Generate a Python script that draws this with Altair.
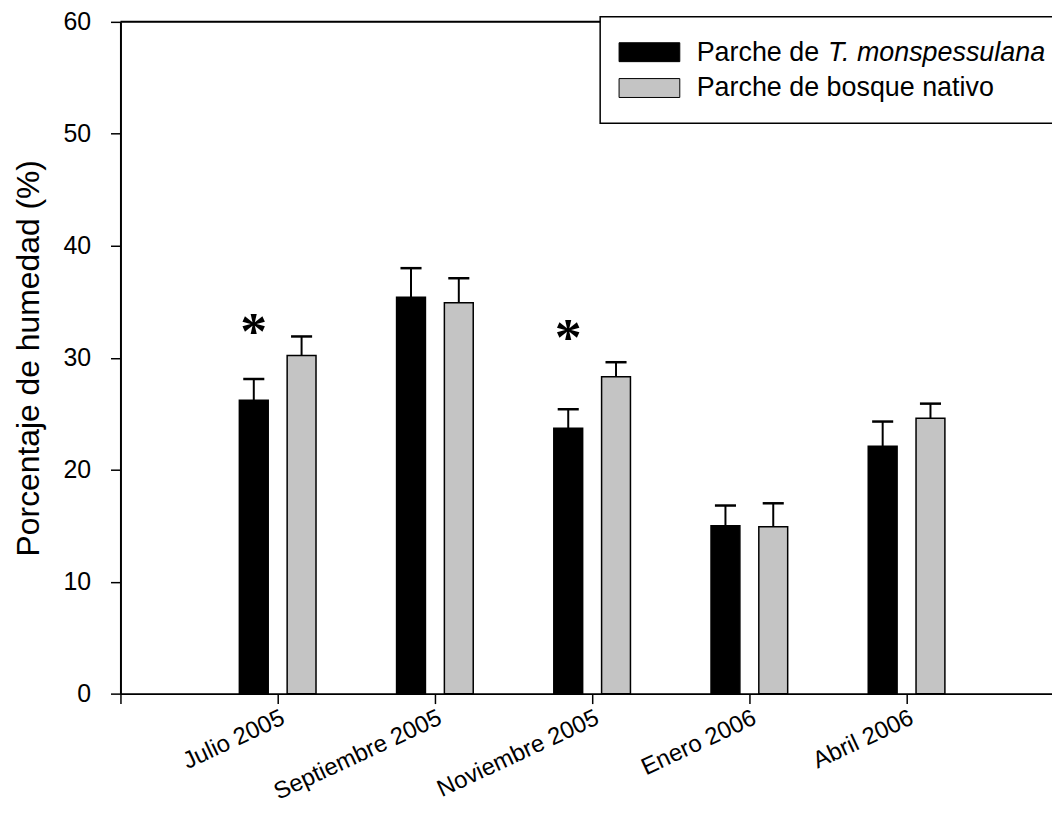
import altair as alt
import pandas as pd

# ---- data ----
months = ["Julio 2005", "Septiembre 2005", "Noviembre 2005", "Enero 2006", "Abril 2006"]
mono_mean = [26.2, 35.4, 23.7, 15.0, 22.1]
mono_err = [1.9, 2.6, 1.7, 1.8, 2.2]
native_mean = [30.2, 34.9, 28.3, 14.9, 24.6]
native_err = [1.7, 2.2, 1.3, 2.1, 1.3]
significant = [True, False, True, False, False]
sig_mark_level = [33.2, None, 32.6, None, None]
series_names = ["Parche de T. monspessulana", "Parche de bosque nativo"]
y_ticks = [0, 10, 20, 30, 40, 50, 60]

FONT = "Liberation Sans"
BLACK = "#000000"
GRAY = "#c4c4c4"

rows = []
for i, m in enumerate(months):
    rows.append({"month": m, "idx": i + 1, "series": series_names[0], "side": -1,
                 "mean": mono_mean[i], "err": mono_err[i]})
    rows.append({"month": m, "idx": i + 1, "series": series_names[1], "side": 1,
                 "mean": native_mean[i], "err": native_err[i]})
df = pd.DataFrame(rows)

stars = pd.DataFrame([{"idx": i + 1, "level": sig_mark_level[i], "side": -1}
                      for i in range(len(months)) if significant[i]])

W, H = 936, 675
XMAX = 5.925
OFF = 0.152
CAP = 0.067

xscale = alt.Scale(domain=[0, XMAX], nice=False, zero=False, padding=0)
yscale = alt.Scale(domain=[0, 60], nice=False, padding=0)

label_expr = "[''," + ",".join("'%s'" % m for m in months) + "][datum.value]"

x_axis = alt.Axis(values=[0, 1, 2, 3, 4, 5], labelExpr=label_expr, title=None,
                  labelAngle=335, labelAlign="right", labelBaseline="top",
                  labelPadding=2, labelOverlap=False, labelLimit=0)
y_axis = alt.Axis(values=y_ticks, title="Porcentaje de humedad (%)",
                  labelPadding=20, labelOverlap=False, labelAlign="right",
                  labelBaseline="middle",
                  titleX=-92, titleY=H / 2, titleAngle=270,
                  titleAlign="center", titleBaseline="middle")

base = alt.Chart(df).transform_calculate(
    xpos=f"datum.idx + datum.side * {OFF}",
    top="datum.mean + datum.err",
    cl=f"datum.idx + datum.side * {OFF} - {CAP}",
    cr=f"datum.idx + datum.side * {OFF} + {CAP}",
)

bars = base.mark_bar(orient="vertical", size=29, stroke=BLACK, strokeWidth=1.5).encode(
    x=alt.X("xpos:Q", scale=xscale, axis=x_axis),
    y=alt.Y("mean:Q", scale=yscale, axis=y_axis),
    fill=alt.Fill("series:N", scale=alt.Scale(domain=series_names, range=[BLACK, GRAY]),
                  legend=None),
)

err_line = base.mark_rule(color=BLACK, strokeWidth=2).encode(
    x="xpos:Q", y="mean:Q", y2="top:Q")
err_cap = base.mark_rule(color=BLACK, strokeWidth=2.5).encode(
    x="cl:Q", x2="cr:Q", y="top:Q")

star = alt.Chart(stars).transform_calculate(
    xpos=f"datum.idx + datum.side * {OFF}"
).mark_text(text="*", font="Liberation Serif", fontWeight="bold", fontSize=54,
            baseline="alphabetic", align="center", dy=27, color=BLACK).encode(
    x="xpos:Q", y="level:Q")

top_line = alt.Chart(pd.DataFrame({"v": [60]})).mark_rule(color=BLACK, strokeWidth=2).encode(
    y=alt.Y("v:Q"))

one = pd.DataFrame({"a": [0]})
leg_box = alt.Chart(one).mark_rect(fill="white", stroke=BLACK, strokeWidth=1.5).encode(
    x=alt.value(482), x2=alt.value(990), y=alt.value(-5), y2=alt.value(102))
sw1 = alt.Chart(one).mark_rect(fill=BLACK, stroke=BLACK, strokeWidth=1).encode(
    x=alt.value(501), x2=alt.value(562), y=alt.value(21), y2=alt.value(40))
sw2 = alt.Chart(one).mark_rect(fill=GRAY, stroke=BLACK, strokeWidth=1).encode(
    x=alt.value(501), x2=alt.value(562), y=alt.value(57), y2=alt.value(76))
t1a = alt.Chart(one).mark_text(text="Parche de ", font=FONT, fontSize=27, align="left",
                               baseline="middle", color=BLACK).encode(
    x=alt.value(579), y=alt.value(31))
t1b = alt.Chart(one).mark_text(text="T. monspessulana", font=FONT, fontSize=27,
                               fontStyle="italic", align="left", baseline="middle",
                               color=BLACK).encode(x=alt.value(711), y=alt.value(31))
t2 = alt.Chart(one).mark_text(text=series_names[1], font=FONT, fontSize=27, align="left",
                              baseline="middle", color=BLACK).encode(
    x=alt.value(579), y=alt.value(67))

chart = alt.layer(bars, err_line, err_cap, star, top_line, leg_box, sw1, sw2, t1a, t1b, t2
                  ).properties(
    width=W, height=H,
    padding={"left": 113, "top": 12, "right": 0, "bottom": 110},
    autosize=alt.AutoSizeParams(type="none"),
).configure_view(stroke=None).configure(background="white").configure_axis(
    grid=False, labelFont=FONT, labelColor=BLACK, labelFontSize=25,
    tickSize=10, tickColor=BLACK, tickWidth=1.5, domainColor=BLACK, domainWidth=2,
    titleFont=FONT, titleFontSize=32, titleFontWeight="normal", titleColor=BLACK,
).configure_axisX(labelFontSize=24, labelPadding=2)

chart.save("out.html", embed_options={"renderer": "svg", "actions": False})
